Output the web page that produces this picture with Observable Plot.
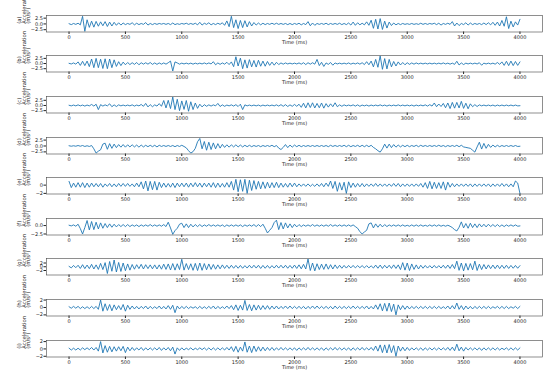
<!DOCTYPE html>
<html><head><meta charset="utf-8">
<script src="https://cdn.jsdelivr.net/npm/d3@7"></script>
<script src="https://cdn.jsdelivr.net/npm/@observablehq/plot@0.6"></script>
<style>
body{margin:0;background:#fff;}
#chart{position:relative;width:550px;height:380px;overflow:hidden;}
</style></head><body><div id="chart"></div>
<script>
// Panel labels
const panelLabels = ["(a)","(b)","(c)","(d)","(e)","(f)","(g)","(h)","(i)"];
// Sample times (ms), one reading every 20 ms
const sampleTimes = d3.range(0, 4001, 20);
const xTicks = [0,500,1000,1500,2000,2500,3000,3500,4000];

const accA = [0.1,-0.3,0.2,-0.2,0.3,-0.4,3.3,-3.2,1.8,-1.5,1.2,-1.4,1.1,-1.0,0.9,-0.8,1.0,-1.1,0.8,-0.9,
 0.7,-0.6,0.5,-0.5,0.4,-0.3,0.2,-0.2,0.5,-0.4,0.3,-0.3,0.2,-0.2,0.6,-0.5,0.2,-0.3,0.2,-0.2,
 0.2,-0.1,0.2,-0.2,0.2,-0.3,0.4,-0.3,0.1,-0.2,0.2,-0.1,0.3,-0.2,0.2,-0.2,0.3,-0.4,0.7,-0.5,
 0.3,-0.2,0.5,-0.4,0.2,-0.3,0.3,-0.2,0.5,-0.6,1.3,-1.2,3.3,-1.6,1.8,-2.0,1.5,-1.6,1.4,-1.3,
 1.0,-0.9,0.6,-0.5,0.4,-0.4,0.3,-0.3,0.2,-0.2,0.3,-0.2,0.3,-0.2,0.2,-0.2,0.2,-0.3,0.2,-0.3,
 0.2,-0.2,0.3,-0.4,0.2,-0.3,1.0,-0.8,0.4,-0.6,0.2,-0.2,0.2,-0.2,0.3,-0.3,0.2,-0.2,0.2,-0.2,
 0.3,-0.3,0.2,-0.3,0.4,-0.5,0.8,-0.6,0.5,-0.4,0.3,-0.4,0.9,-0.6,1.6,-1.9,2.0,-2.2,2.3,-2.4,
 1.2,-1.8,0.8,-0.7,0.4,-0.4,0.2,-0.3,0.2,-0.2,0.1,-0.2,0.2,-0.2,0.1,-0.2,0.3,-0.2,0.2,-0.2,
 0.2,-0.1,0.3,-0.3,0.3,-0.5,0.2,-0.2,0.3,-0.2,1.0,-0.9,0.4,-0.7,0.2,-0.3,0.5,-0.5,0.4,-0.3,
 0.2,-0.2,0.2,-0.3,0.4,-0.3,0.5,-0.4,0.7,-0.6,0.8,-0.9,1.5,-1.0,3.1,-2.0,1.2,-1.3,0.9,-0.5,
 2.0];
const accB = [0.1,-0.2,0.3,-0.3,0.8,-0.9,1.1,-1.0,1.2,-1.5,2.2,-2.0,2.5,-2.0,2.1,-2.4,2.3,-2.5,2.2,-2.0,
 1.8,-1.4,0.9,-1.0,0.7,-0.6,0.5,-0.5,0.4,-0.4,0.5,-0.6,0.4,-0.3,0.4,-0.3,0.5,-0.4,0.3,-0.4,
 0.3,-0.3,0.3,-0.3,0.4,1.2,-3.6,0.8,0.3,-0.3,0.2,-0.2,0.2,-0.2,0.2,-0.3,0.2,-0.2,0.2,-0.2,
 0.3,-0.2,0.3,-0.2,0.9,-0.6,0.3,-0.4,0.3,-0.3,0.6,-0.5,0.8,-1.5,3.3,-1.2,2.6,-2.5,1.8,-2.2,
 1.9,-1.6,1.5,-1.7,1.6,-1.3,1.2,-1.3,1.0,-0.9,0.7,-0.8,0.6,-0.5,0.3,-0.3,0.3,-0.2,0.2,-0.2,
 0.2,-0.2,0.3,-0.3,0.4,-0.5,0.4,-0.3,0.4,-0.3,2.0,-1.0,0.6,-1.4,0.3,-0.4,0.5,-0.8,0.3,-0.2,
 0.2,-0.2,0.2,-0.2,0.3,-0.3,0.2,-0.2,0.3,-0.3,0.4,-0.5,0.9,-0.6,1.2,-1.6,2.0,-1.8,3.7,-2.8,
 2.4,-2.6,2.0,-1.6,1.0,-1.2,0.8,-0.7,0.5,-0.6,0.4,-0.4,0.3,-0.3,0.3,-0.2,0.2,-0.2,0.2,-0.2,
 0.2,-0.2,0.2,-0.2,0.2,-0.2,0.3,-0.2,0.2,-0.3,0.2,-0.4,1.1,-0.7,0.3,-0.5,0.2,-0.2,0.2,-0.2,
 0.2,-0.2,0.4,-0.8,0.2,-0.2,0.2,-0.2,0.2,-0.3,0.5,-0.4,0.8,-0.9,1.1,-1.0,1.2,-1.0,1.0,-0.9,
 0.8];
const accC = [0.1,-0.2,0.2,-0.2,0.3,-0.2,0.2,-0.3,0.2,-0.2,0.5,-0.3,0.6,-2.0,0.4,-0.3,0.3,-0.2,0.8,-0.6,
 0.3,-0.5,0.3,-0.2,0.2,-0.2,0.2,-0.2,0.3,-0.3,0.2,-0.2,0.5,-0.4,1.0,-0.7,0.4,-0.6,0.3,-0.3,
 0.9,-0.4,2.4,-1.2,2.5,-1.5,4.1,-2.0,3.0,-2.5,2.2,-1.9,2.4,-2.8,1.8,-2.0,1.2,-1.4,0.6,-0.7,
 0.4,-0.4,0.3,-0.3,0.3,-0.2,1.0,-0.5,0.3,-0.4,0.2,-0.2,0.3,-0.3,0.4,-0.5,0.6,-2.0,0.3,-0.2,
 0.2,-0.2,0.2,-0.2,0.2,-0.3,0.2,-0.2,0.2,-0.2,0.2,-0.2,0.3,-0.3,0.4,-0.4,0.4,-0.5,0.3,-0.4,
 0.5,-0.4,0.6,-0.9,1.1,-1.2,1.3,-1.0,1.3,-1.2,1.0,-1.1,1.2,-1.3,0.9,-0.8,0.8,-0.6,1.3,-0.6,
 0.3,-0.4,0.3,-0.2,0.2,-0.2,0.3,-0.3,0.3,-0.4,0.2,-0.2,0.2,-0.3,0.2,-0.2,0.2,-0.2,0.3,-0.2,
 0.2,-0.3,0.2,-0.2,0.2,-0.2,0.3,-0.2,0.2,-0.2,0.2,-0.2,0.2,-0.3,0.2,-0.2,0.2,-0.2,0.3,-0.3,
 0.4,-0.3,1.2,-0.6,0.7,-0.5,1.0,-1.1,1.2,-1.5,1.5,-1.3,1.5,-1.2,2.0,-1.4,1.1,-1.6,0.8,-0.6,
 0.4,-0.5,0.3,-0.2,0.2,-0.2,0.2,-0.2,0.2,-0.3,0.2,-0.2,0.2,-0.2,0.2,-0.2,0.2,-0.2,0.2,-0.2,
 -0.1];
const accD = [0.1,-0.1,0.1,-0.1,0.2,-0.1,0.2,-0.2,0.1,-0.2,0.2,-1.2,-3.0,-2.2,-1.6,0.8,1.2,-1.4,1.0,-1.0,
 0.8,-0.7,0.6,-0.5,0.6,-0.5,0.5,-0.4,0.5,-0.4,0.4,-0.5,0.4,-0.4,0.3,-0.3,0.3,-0.3,0.3,-0.4,
 0.3,-0.2,0.2,-0.2,0.2,-0.2,0.2,-0.3,0.2,-0.2,0.3,-0.2,-0.8,-2.0,-3.0,-2.4,-1.0,1.8,3.2,-1.2,
 1.9,-1.8,1.6,-1.5,1.3,-1.2,1.0,-0.9,0.7,-0.6,0.5,-0.5,0.5,-0.4,0.5,-0.4,0.4,-0.4,0.3,-0.3,
 0.3,-0.3,0.2,-0.2,0.2,-0.3,0.2,-0.2,0.2,-0.2,0.3,-0.3,0.2,-0.9,-1.5,-0.6,0.6,-0.7,0.4,-0.5,
 0.4,-0.3,0.3,-0.3,0.2,-0.2,0.2,-0.2,0.2,-0.2,0.2,-0.2,0.2,-0.2,0.2,-0.3,0.3,-0.2,0.2,-0.2,
 0.2,-0.2,0.3,-0.3,0.3,-0.3,0.2,-0.2,0.3,-0.3,0.3,-0.3,0.3,-0.3,0.3,-0.6,-1.2,-2.0,-2.6,-1.2,
 0.8,-0.9,0.8,-0.7,0.6,-0.5,0.4,-0.4,0.3,-0.3,0.3,-0.3,0.2,-0.2,0.3,-0.3,0.3,-0.2,0.2,-0.2,
 0.2,-0.2,0.2,-0.2,0.3,-0.2,0.2,-0.3,0.2,-0.2,0.2,-0.2,0.3,-0.3,0.3,-0.4,-0.6,-0.8,-1.0,-1.8,
 -2.6,-0.4,1.6,-1.3,1.1,-1.0,0.7,-0.6,0.4,-0.4,0.3,-0.3,0.2,-0.2,0.2,-0.2,0.2,-0.2,0.2,-0.2,
 -0.1];
const accE = [0.9,-0.6,0.5,-0.5,0.6,-0.5,0.6,-0.6,0.5,-0.5,0.5,-0.4,0.4,-0.4,0.4,-0.5,0.3,-0.3,0.4,-0.4,
 0.3,-0.4,0.4,-0.3,0.4,-0.3,0.4,-0.3,0.3,-0.4,0.5,-0.4,0.8,-0.9,1.0,-1.4,0.9,-1.1,0.9,-1.2,
 0.7,-0.6,0.5,-0.5,0.4,-0.5,0.5,-0.6,0.5,-0.4,0.5,-0.4,0.5,-0.5,0.5,-0.4,0.6,-0.4,0.5,-0.5,
 0.5,-0.4,0.5,-0.5,0.6,-0.6,0.5,-0.5,0.4,-0.5,0.6,-0.5,0.9,-1.2,1.4,-1.6,1.3,-1.5,1.4,-2.0,
 1.2,-1.3,1.1,-1.0,0.9,-0.9,0.8,-0.8,0.7,-0.7,0.6,-0.6,0.7,-0.6,0.5,-0.5,0.4,-0.5,0.5,-0.4,
 0.5,-0.4,0.3,-0.3,0.3,-0.3,0.3,-0.3,0.2,-0.3,0.3,-0.3,0.4,-0.4,0.5,-0.3,1.0,-0.8,0.9,-1.5,
 0.6,-1.2,0.7,-2.0,0.8,-0.6,0.5,-0.5,0.4,-0.4,0.4,-0.4,0.3,-0.3,0.3,-0.3,0.4,-0.3,0.3,-0.3,
 0.3,-0.3,0.3,-0.3,0.4,-0.3,0.4,-0.4,0.3,-0.3,0.3,-0.3,0.3,-0.3,0.3,-0.3,0.4,-0.5,0.6,-0.8,
 0.9,-0.9,0.7,-0.8,0.6,-0.8,0.8,-1.2,0.7,-0.5,0.4,-0.4,0.3,-0.3,0.3,-0.3,0.3,-0.3,0.3,-0.4,
 0.3,-0.3,0.3,-0.3,0.3,-0.3,0.3,-0.4,0.3,-0.3,0.3,-0.3,0.4,-0.3,0.3,-0.4,0.3,-0.4,1.0,0.5,
 -2.0];
const accF = [0.1,-0.1,0.2,-0.2,0.4,-0.9,-2.5,-0.6,1.5,-1.3,1.2,-1.2,1.0,-1.0,0.8,-0.8,0.6,-0.6,0.5,-0.5,
 0.4,-0.4,0.3,-0.3,0.3,-0.3,0.3,-0.3,0.2,-0.2,0.2,-0.3,0.2,-0.2,0.2,-0.2,0.3,-0.2,0.2,-0.2,
 0.2,-0.2,0.3,-0.3,1.0,-0.7,-2.6,-1.5,-0.8,0.4,0.7,-0.6,0.5,-0.6,0.4,-0.4,0.3,-0.3,0.3,-0.3,
 0.2,-0.2,0.3,-0.2,0.2,-0.2,0.2,-0.2,0.2,-0.3,0.2,-0.2,0.2,-0.2,0.2,-0.2,0.2,-0.3,0.2,-0.2,
 0.2,-0.2,0.3,-0.3,0.3,-0.3,0.4,-0.8,-2.2,-1.4,-0.6,0.9,1.6,-1.2,0.9,-1.0,0.8,-0.7,0.5,-0.6,
 0.4,-0.4,0.3,-0.3,0.2,-0.2,0.2,-0.2,0.3,-0.2,0.2,-0.2,0.2,-0.2,0.2,-0.2,0.3,-0.2,0.2,-0.2,
 0.2,-0.2,0.2,-0.2,0.2,-0.2,0.2,-0.3,-0.8,-1.8,-2.5,-1.9,-1.4,0.5,0.8,-0.7,0.5,-0.5,0.4,-0.4,
 0.3,-0.3,0.2,-0.2,0.2,-0.2,0.2,-0.2,0.2,-0.2,0.1,-0.2,0.2,-0.2,0.2,-0.2,0.2,-0.2,0.1,-0.2,
 0.2,-0.2,0.2,-0.2,0.2,-0.2,0.1,-0.2,0.1,-0.2,-0.6,-1.2,-1.6,-0.5,1.1,-0.7,0.6,-0.8,0.7,-0.6,
 0.5,-0.6,0.5,-0.4,0.4,-0.4,0.4,-0.3,0.3,-0.3,0.3,-0.3,0.2,-0.3,0.2,-0.2,0.2,-0.2,0.2,-0.2,
 -0.1];
const accG = [0.2,-0.6,0.7,-0.5,0.8,-0.9,1.1,-1.0,0.9,-1.0,1.3,-1.2,1.0,-1.4,1.8,-1.5,2.2,-3.6,2.8,-2.4,
 3.6,-2.8,2.3,-2.5,2.0,-2.1,1.5,-1.8,1.2,-1.3,1.1,-1.0,1.3,-1.2,1.1,-1.0,1.0,-1.1,1.0,-1.2,
 1.0,-1.3,1.4,-1.4,1.5,-1.7,1.7,-1.8,1.6,-1.5,4.0,-1.8,1.7,-1.5,1.6,-1.9,1.8,-2.0,2.0,-1.9,
 1.7,-1.6,1.5,-1.4,1.2,-1.3,1.0,-1.1,1.0,-0.9,0.8,-0.9,0.8,-0.8,0.7,-0.8,0.7,-0.8,0.6,-0.7,
 0.8,-0.7,0.8,-0.7,0.8,-0.9,0.7,-0.8,0.7,-0.8,0.6,-0.7,0.8,-0.7,0.8,-0.7,0.8,-0.8,0.7,-0.8,
 0.9,-0.9,1.0,-1.1,1.3,-1.2,4.1,-2.0,2.0,-2.2,1.6,-1.5,1.4,-1.4,1.5,-1.3,1.1,-1.2,1.0,-0.9,
 0.8,-0.8,0.7,-0.7,0.7,-0.6,0.7,-0.6,0.6,-0.5,0.6,-0.6,0.6,-0.6,0.5,-0.7,0.9,-0.8,0.9,-0.9,
 0.8,-0.7,0.8,-0.9,1.0,-0.9,1.0,-1.5,2.2,-1.8,2.0,-2.0,1.5,-1.4,1.0,-1.2,0.8,-0.8,0.7,-0.7,
 0.6,-0.7,0.7,-0.7,0.6,-0.7,0.8,-0.8,0.9,-0.9,1.2,-1.0,3.0,-1.9,2.0,-2.2,1.8,-1.8,1.7,-1.6,
 3.0,-2.0,1.4,-1.5,1.2,-1.2,1.0,-1.0,0.9,-1.0,0.9,-1.0,0.8,-0.9,0.8,-0.9,0.7,-0.8,0.7,-0.8,
 0.6];
const accH = [0.2,-0.2,0.3,-0.2,0.3,-0.3,0.2,-0.3,0.2,-0.3,0.3,-0.3,0.3,-0.5,2.0,-1.0,1.0,-0.8,0.8,-0.9,
 0.7,-0.6,0.5,-0.6,0.8,-1.0,0.6,-0.5,0.4,-0.4,0.3,-0.4,0.3,-0.3,0.4,-0.4,0.3,-0.3,0.2,-0.3,
 0.4,-0.4,0.3,-0.4,0.5,-0.5,0.6,-1.4,0.4,-0.4,0.3,-0.3,0.3,-0.3,0.2,-0.2,0.2,-0.3,0.3,-0.3,
 0.2,-0.3,0.3,-0.3,0.4,-0.4,0.3,-0.3,0.2,-0.3,0.4,-0.3,0.5,-0.6,0.7,-0.8,0.6,-0.7,1.9,-0.8,
 0.8,-0.9,0.7,-0.7,0.6,-0.6,0.5,-0.5,0.5,-0.5,0.4,-0.4,0.4,-0.4,0.3,-0.3,0.4,-0.3,0.4,-0.3,
 0.3,-0.3,0.3,-0.3,0.3,-0.4,0.3,-0.3,0.4,-0.3,0.4,-0.3,0.3,-0.3,0.3,-0.3,0.3,-0.4,0.4,-0.3,
 0.3,-0.3,0.3,-0.3,0.3,-0.3,0.4,-0.3,0.3,-0.3,0.3,-0.3,0.4,-0.4,0.3,-0.4,0.7,-0.5,1.0,-0.9,
 1.1,-1.0,1.2,-1.1,0.9,-2.0,0.7,-0.6,0.5,-0.5,0.4,-0.4,0.3,-0.3,0.3,-0.3,0.3,-0.3,0.3,-0.3,
 0.3,-0.3,0.3,-0.3,0.3,-0.3,0.2,-0.3,0.4,-0.4,0.5,-0.4,1.2,-0.5,0.5,-0.6,0.4,-0.4,0.3,-0.4,
 0.3,-0.3,0.3,-0.3,0.3,-0.3,0.3,-0.3,0.2,-0.2,0.3,-0.3,0.3,-0.3,0.3,-0.3,0.2,-0.2,0.3,-0.3,
 0.3];
const accI = [0.2,-0.3,0.2,-0.3,0.2,-0.3,0.3,-0.2,0.3,-0.2,0.4,-0.3,0.4,-0.6,2.0,-1.1,0.9,-0.9,0.7,-0.8,
 0.6,-0.6,0.6,-0.5,0.7,-1.0,0.5,-0.5,0.4,-0.4,0.3,-0.3,0.4,-0.4,0.3,-0.3,0.3,-0.3,0.3,-0.3,
 0.4,-0.4,0.3,-0.3,0.4,-0.5,0.5,-1.4,0.3,-0.4,0.3,-0.3,0.2,-0.2,0.3,-0.3,0.2,-0.2,0.3,-0.2,
 0.3,-0.3,0.3,-0.3,0.3,-0.3,0.3,-0.3,0.3,-0.3,0.4,-0.3,0.6,-0.7,0.7,-0.9,0.5,-0.6,1.9,-0.9,
 0.8,-1.0,0.8,-0.7,0.6,-0.6,0.5,-0.5,0.4,-0.4,0.4,-0.4,0.3,-0.3,0.4,-0.3,0.3,-0.3,0.3,-0.3,
 0.3,-0.4,0.3,-0.3,0.3,-0.3,0.4,-0.3,0.3,-0.3,0.3,-0.3,0.3,-0.4,0.3,-0.3,0.3,-0.3,0.4,-0.3,
 0.3,-0.3,0.3,-0.3,0.3,-0.4,0.3,-0.3,0.3,-0.3,0.4,-0.3,0.3,-0.3,0.4,-0.4,0.8,-0.6,1.1,-1.0,
 1.1,-1.1,1.2,-1.0,0.9,-2.0,0.8,-0.6,0.5,-0.5,0.4,-0.4,0.3,-0.3,0.3,-0.3,0.3,-0.4,0.3,-0.3,
 0.3,-0.3,0.3,-0.3,0.3,-0.3,0.3,-0.3,0.4,-0.4,0.5,-0.5,1.3,-0.5,0.5,-0.6,0.4,-0.3,0.3,-0.3,
 0.3,-0.3,0.3,-0.4,0.3,-0.3,0.3,-0.3,0.3,-0.3,0.3,-0.3,0.2,-0.2,0.3,-0.3,0.3,-0.3,0.3,-0.3,
 0.3];

const seriesList = [accA, accB, accC, accD, accE, accF, accG, accH, accI];
const yDomains = [[-3.5,3.65],[-4.1,3.9],[-3.65,4.35],[-3.4,3.6],[-2.15,1.85],[-2.8,2.1],[-4.4,4.4],[-2.3,2.15],[-2.2,2.3]];
const yTicks = [[-2.5,0,2.5],[-2.5,0,2.5],[-2.5,0,2.5],[-2.5,0,2.5],[-2,0],[-2.5,0],[-2,0,2],[-2,0,2],[-2,0,2]];
const yDecimals = [1,1,1,1,0,1,0,0,0];

const fmt = (dec) => (d) => d.toFixed(dec).replace("-", "\u2212");
const chart = document.getElementById("chart");
const mt = 12, mb = 22, boxH = 16.5;
const firstTop = 14.7, step = 40.6;

seriesList.forEach((vals, k) => {
  const rows = sampleTimes.map((t, i) => ({t, v: vals[i]}));
  const svg = Plot.plot({
    width: 550,
    height: mt + boxH + mb,
    marginTop: mt, marginBottom: mb, marginLeft: 46, marginRight: 8,
    style: {fontFamily: "DejaVu Sans", fontSize: "5px", color: "#222", background: "transparent", overflow: "visible"},
    x: {domain: [-200, 4200], ticks: xTicks, tickSize: 2.5, tickPadding: 0.5, tickFormat: d => String(d), label: null},
    y: {domain: yDomains[k], ticks: yTicks[k], tickSize: 2.5, tickPadding: 1, tickFormat: fmt(yDecimals[k]), label: null},
    marks: [
      Plot.line(rows, {x: "t", y: "v", stroke: "#1f77b4", strokeWidth: 0.9}),
      Plot.frame({stroke: "#444", strokeWidth: 0.6}),
      Plot.text(["Time (ms)"], {frameAnchor: "bottom", dy: 12.3, fontSize: 5, fill: "#222"}),
      Plot.text([panelLabels[k] + "\nAcceleration\n(m/s\u00b2)"], {frameAnchor: "left", dx: -22, rotate: -90, fontSize: 5.3, lineHeight: 0.85, fill: "#222"})
    ]
  });
  svg.style.position = "absolute";
  svg.style.left = "0px";
  svg.style.top = (firstTop + step * k - mt) + "px";
  chart.appendChild(svg);
});
</script>
</body></html>
